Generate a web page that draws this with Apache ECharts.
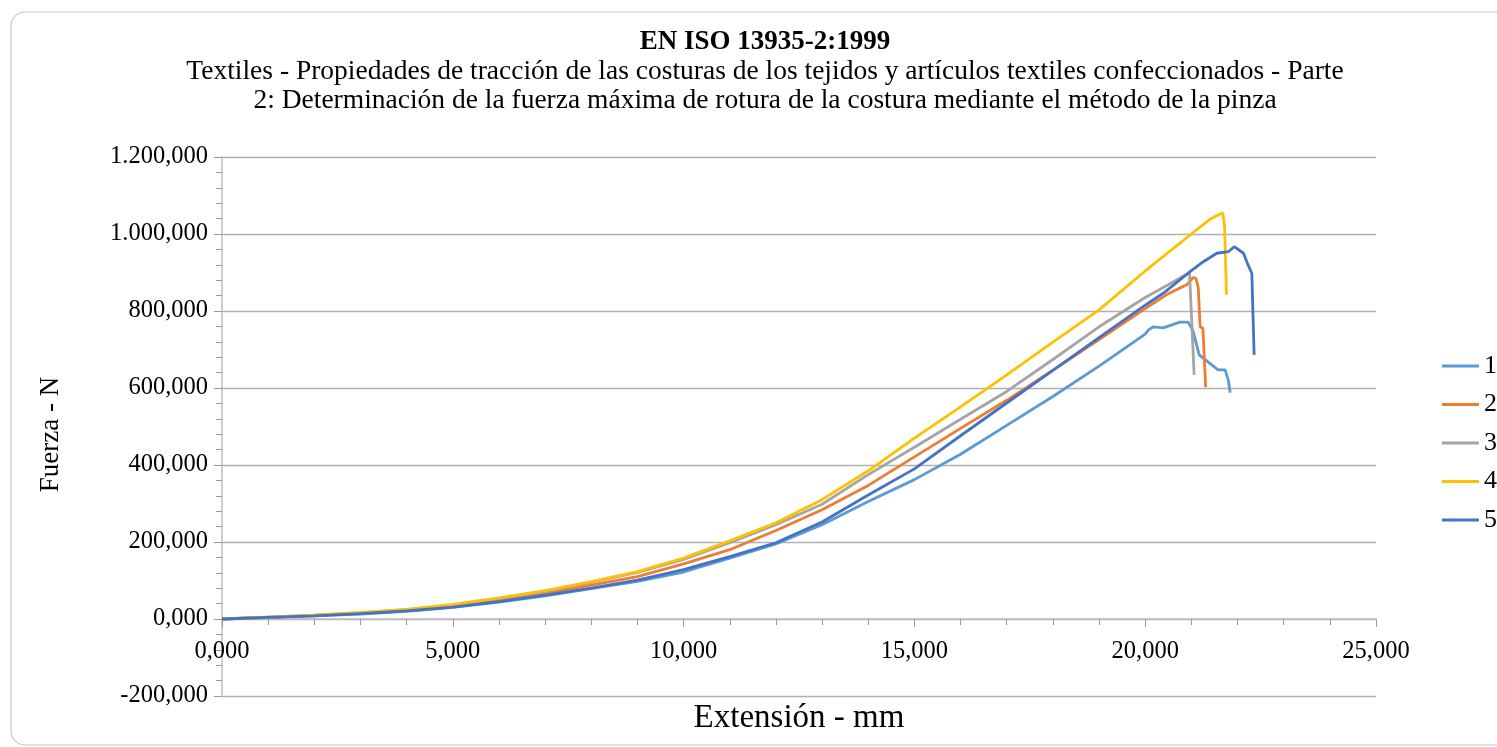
<!DOCTYPE html>
<html>
<head>
<meta charset="utf-8">
<script src="https://cdn.jsdelivr.net/npm/echarts@6/dist/echarts.min.js"></script>
<style>
  html, body { margin: 0; padding: 0; background: #fff; }
  #chart { width: 1497px; height: 747px; }
</style>
</head>
<body>
<div id="chart"></div>
<script>
  // ensayo de costura: extensión (mm) frente a fuerza (N), cinco probetas
  const names = ['1', '2', '3', '4', '5']
  const colors = ['#5B9BD5', '#ED7D31', '#A5A5A5', '#FFC000', '#4472C4']

  const x1 = [0, 1, 2, 3, 4, 5, 6, 7, 8, 9, 10, 11, 12, 13, 14, 15, 16, 17, 18, 19, 20, 20.07, 20.18, 20.39, 20.75, 20.93, 21.03, 21.17, 21.4, 21.58, 21.73, 21.8, 21.84]
  const y1 = [0, 4, 8, 13, 20, 30, 44, 60, 79, 98, 122, 158, 195, 245, 305, 362, 428, 503, 578, 657, 740, 751, 759, 756, 771, 771, 751, 686, 664, 647, 647, 621, 588]

  const x2 = [0, 1, 2, 3, 4, 5, 6, 7, 8, 9, 10, 11, 12, 13, 14, 15, 16, 17, 18, 19, 20, 20.5, 20.9, 21.04, 21.1, 21.15, 21.19, 21.25, 21.31]
  const y2 = [0, 4, 9, 15, 22, 34, 49, 67, 88, 110, 143, 180, 230, 284, 347, 421, 495, 568, 646, 726, 806, 845, 868, 887, 885, 860, 759, 755, 602]

  const x3 = [0, 1, 2, 3, 4, 5, 6, 7, 8, 9, 10, 11, 12, 13, 14, 15, 16, 17, 18, 19, 20, 20.5, 20.96, 21.06]
  const y3 = [0, 5, 10, 16, 24, 36, 53, 72, 95, 121, 155, 198, 245, 298, 375, 446, 519, 591, 674, 759, 835, 868, 900, 634]

  const x4 = [0, 1, 2, 3, 4, 5, 6, 7, 8, 9, 10, 11, 12, 13, 14, 15, 16, 17, 18, 19, 20, 21, 21.4, 21.68, 21.72, 21.76]
  const y4 = [0, 5, 10, 17, 25, 38, 55, 74, 97, 123, 158, 203, 250, 310, 385, 470, 551, 634, 719, 803, 904, 1000, 1038, 1055, 1020, 842]

  const x5 = [0, 1, 2, 3, 4, 5, 6, 7, 8, 9, 10, 11, 12, 13, 14, 15, 16, 17, 18, 19, 20, 20.39, 20.97, 21.26, 21.55, 21.8, 21.93, 22.13, 22.23, 22.31, 22.36]
  const y5 = [0, 4, 8, 14, 21, 31, 45, 62, 80, 101, 128, 162, 198, 252, 322, 390, 476, 561, 646, 731, 815, 846, 902, 928, 950, 954, 967, 950, 919, 898, 686]

  const xs = [x1, x2, x3, x4, x5]
  const ys = [y1, y2, y3, y4, y5]

  const font = 'Liberation Serif'

  // formato español: punto de miles, coma decimal
  function esFormat(v) {
    const neg = v < 0
    const parts = Math.abs(v).toFixed(3).split('.')
    const int = parts[0].replace(/\B(?=(\d{3})+(?!\d))/g, '.')
    return (neg ? '-' : '') + int + ',' + parts[1]
  }

  const series = names.map((n, i) => ({
    name: n,
    type: 'line',
    showSymbol: false,
    symbol: 'none',
    data: xs[i].map((x, j) => [x, ys[i][j]]),
    lineStyle: { color: colors[i], width: 2.8 },
    itemStyle: { color: colors[i] }
  }))

  const myChart = echarts.init(document.getElementById('chart'))
  myChart.setOption({
    animation: false,
    backgroundColor: '#fff',
    graphic: [
      {
        type: 'rect',
        shape: { x: 11, y: 12, width: 1520, height: 733, r: 14 },
        style: { fill: 'none', stroke: '#c8c8c8', lineWidth: 1.2 },
        silent: true
      },
      {
        type: 'text',
        x: 765, y: 42,
        style: { text: 'EN ISO 13935-2:1999', font: 'bold 27px "Liberation Serif"', fill: '#000', textAlign: 'center', verticalAlign: 'middle' }
      },
      {
        type: 'text',
        x: 765, y: 72,
        style: { text: 'Textiles - Propiedades de tracción de las costuras de los tejidos y artículos textiles confeccionados - Parte', font: '27.5px "Liberation Serif"', fill: '#000', textAlign: 'center', verticalAlign: 'middle' }
      },
      {
        type: 'text',
        x: 765, y: 101,
        style: { text: '2: Determinación de la fuerza máxima de rotura de la costura mediante el método de la pinza', font: '27.5px "Liberation Serif"', fill: '#000', textAlign: 'center', verticalAlign: 'middle' }
      }
    ],
    grid: { left: 222, right: 121, top: 157, bottom: 51, containLabel: false, outerBoundsMode: 'none' },
    legend: {
      data: names,
      orient: 'vertical',
      right: 0,
      top: 353,
      padding: 0,
      icon: 'rect',
      itemWidth: 37,
      itemHeight: 3,
      itemGap: 12.5,
      textStyle: { fontFamily: font, fontSize: 26, color: '#000', overflow: 'none' }
    },
    xAxis: {
      type: 'value',
      min: 0,
      max: 25,
      interval: 5,
      // el eje X cruza en fuerza = 0 (77 px por encima del borde inferior)
      offset: -77,
      name: 'Extensión - mm',
      nameLocation: 'middle',
      nameGap: 83,
      nameTextStyle: { fontFamily: font, fontSize: 33, color: '#000' },
      axisLine: { onZero: false, lineStyle: { color: '#bfbfbf', width: 1.5 } },
      axisTick: { show: true, length: 8, lineStyle: { color: '#999' } },
      minorTick: { show: true, splitNumber: 5, length: 6, lineStyle: { color: '#999' } },
      splitLine: { show: false },
      axisLabel: { fontFamily: font, fontSize: 24.5, color: '#000', margin: 20, formatter: esFormat }
    },
    yAxis: {
      type: 'value',
      min: -200,
      max: 1200,
      interval: 200,
      name: 'Fuerza - N',
      nameLocation: 'middle',
      nameGap: 158,
      nameTextStyle: { fontFamily: font, fontSize: 27, color: '#000', padding: [0, 16, 0, 0] },
      axisLine: { show: true, onZero: false, lineStyle: { color: '#bfbfbf', width: 1.5 } },
      axisTick: { show: true, length: 8, lineStyle: { color: '#999' } },
      minorTick: { show: true, splitNumber: 5, length: 6, lineStyle: { color: '#999' } },
      splitLine: { show: true, lineStyle: { color: '#b0b0b0', width: 1.3 } },
      axisLabel: { fontFamily: font, fontSize: 24.5, color: '#000', margin: 14, formatter: esFormat }
    },
    series: series
  })
</script>
</body>
</html>
